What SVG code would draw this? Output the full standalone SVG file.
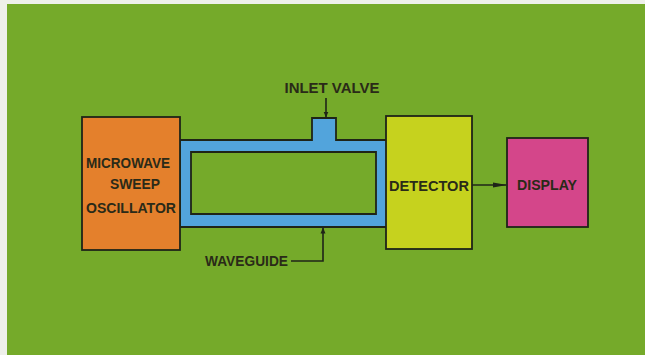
<svg xmlns="http://www.w3.org/2000/svg" width="645" height="355" viewBox="0 0 645 355">
<defs>
<style>
.box{stroke:#1f2418;stroke-width:1.8}
.lbl{font-family:"Liberation Sans",Arial,sans-serif;font-weight:bold;font-size:14px;fill:#2a2a18}
.ln{stroke:#1f2418;stroke-width:1.6;fill:none}
</style>
<marker id="ah" markerWidth="14" markerHeight="8" refX="13" refY="4" orient="auto" markerUnits="userSpaceOnUse">
<path d="M0,1.5 L14,4 L0,6.5 Z" fill="#1f2418"/>
</marker>
<marker id="ahs" markerWidth="6" markerHeight="6" refX="5.5" refY="3" orient="auto" markerUnits="userSpaceOnUse">
<path d="M0,0.5 L6,3 L0,5.5 Z" fill="#1f2418"/>
</marker>
</defs>
<rect x="0" y="0" width="645" height="355" fill="#eef0ea"/>
<rect x="7" y="4" width="638" height="351" fill="#75aa2a"/>
<g id="waveguide">
<path class="box" fill="#52a4dc" fill-rule="evenodd" d="M180,140 H312 V118 H336 V140 H387 V227 H180 Z M191,152 H376 V214 H191 Z"/>
</g>
<g id="oscillator">
<rect class="box" x="82" y="117" width="98" height="133" fill="#e4802c"/>
<text class="lbl" x="128" y="168" text-anchor="middle" textLength="84" lengthAdjust="spacingAndGlyphs">MICROWAVE</text>
<text class="lbl" x="135" y="189" text-anchor="middle" textLength="50" lengthAdjust="spacingAndGlyphs">SWEEP</text>
<text class="lbl" x="131" y="213" text-anchor="middle" textLength="90" lengthAdjust="spacingAndGlyphs">OSCILLATOR</text>
</g>
<g id="detector">
<rect class="box" x="386" y="116" width="86" height="133" fill="#c6d21e"/>
<text class="lbl" x="429" y="191" text-anchor="middle" textLength="80" lengthAdjust="spacingAndGlyphs">DETECTOR</text>
</g>
<g id="display">
<rect class="box" x="507" y="138" width="81" height="89" fill="#d4468a"/>
<text class="lbl" x="547" y="190" text-anchor="middle" textLength="60" lengthAdjust="spacingAndGlyphs">DISPLAY</text>
</g>
<g id="inlet-label">
<text class="lbl" x="332" y="93" text-anchor="middle" textLength="95" lengthAdjust="spacingAndGlyphs">INLET VALVE</text>
</g>
<g id="waveguide-label">
<text class="lbl" x="205" y="266" textLength="83" lengthAdjust="spacingAndGlyphs">WAVEGUIDE</text>
</g>
<g id="connectors">
<line class="ln" x1="326" y1="98" x2="326" y2="117" marker-end="url(#ahs)"/>
<line class="ln" x1="472" y1="185" x2="506" y2="185" marker-end="url(#ah)"/>
<polyline class="ln" points="291,261 323,261 323,228" marker-end="url(#ahs)"/>
</g>
</svg>
